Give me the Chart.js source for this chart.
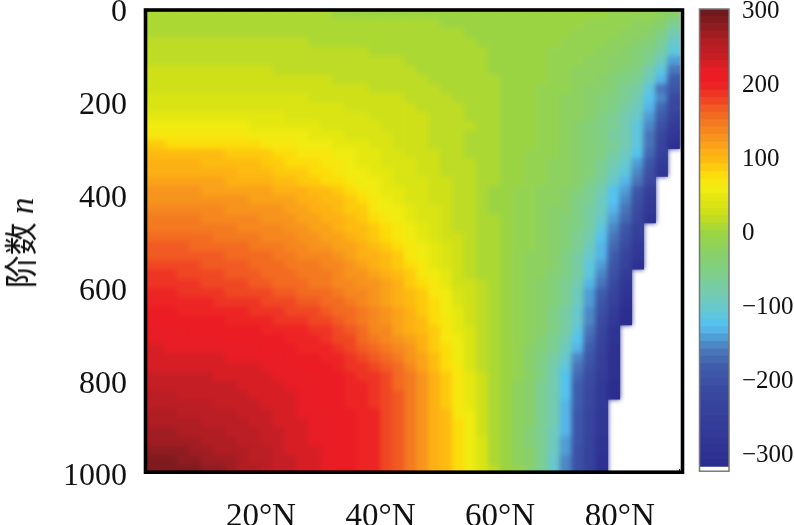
<!DOCTYPE html>
<html>
<head>
<meta charset="utf-8">
<script src="https://cdn.jsdelivr.net/npm/chart.js@4/dist/chart.umd.min.js"></script>
<style>
  html, body { margin: 0; padding: 0; background: #fff; width: 794px; height: 525px; overflow: hidden; }
  canvas { position: absolute; left: 0; top: 0; }
  #yTitle {
    position: absolute; left: 19px; top: 243px;
    transform: translate(-50%, -50%) rotate(-90deg);
    font: 33px "Liberation Serif", "Noto Sans CJK SC", serif;
    white-space: nowrap; color: #111;
  }
</style>
</head>
<body>
<canvas id="heatChart" width="794" height="525"></canvas>
<canvas id="barChart" width="794" height="525"></canvas>
<div id="yTitle">阶数 <i>n</i></div>
<script>
// Data
const latitudes = [1,3,5,7,9,11,13,15,17,19,21,23,25,27,29,31,33,35,37,39,41,43,45,47,49,51,53,55,57,59,61,63,65,67,69,71,73,75,77,79,81,83,85,87,89];
const orders = [0,20,40,60,80,100,120,140,160,180,200,220,240,260,280,300,320,340,360,380,400,420,440,460,480,500,520,540,560,580,600,620,640,660,680,700,720,740,760,780,800,820,840,860,880,900,920,940,960,980];
const orderStep = 20;
const xTicks = [20, 40, 60, 80];
const xTickLabels = ["20°N", "40°N", "60°N", "80°N"];
const yTicks = [0, 200, 400, 600, 800, 1000];
const yTickLabels = ["0", "200", "400", "600", "800", "1000"];
const barTicks = [300, 200, 100, 0, -100, -200, -300];
const barTickLabels = ["300", "200", "100", "0", "−100", "−200", "−300"];
const barLevels = [300,290,280,270,260,250,240,230,220,210,200,190,180,170,160,150,140,130,120,110,100,90,80,70,60,50,40,30,20,10,0,-10,-20,-30,-40,-50,-60,-70,-80,-90,-100,-110,-120,-130,-140,-150,-160,-170,-180,-190,-200,-210,-220,-230,-240,-250,-260,-270,-280,-290,-300,-310];

// colour ramp of the colour bar
const rampValues = [300,280,260,240,220,205,190,170,150,130,110,95,80,65,50,30,15,0,-20,-50,-80,-100,-120,-130,-140,-157,-180,-210,-300,-310];
const rampColors = ["#6e1a1e","#8f1c20","#b01d23","#c61e25","#e81d25","#ed1c24","#ee3424","#f15a22","#f47a20","#f7941d","#fdb014","#fdc10f","#fcdc0a","#f5ec12","#e5e810","#cfe019","#b5da2b","#9bd443","#8dd160","#80cf85","#74cbb0","#68c8cc","#55c3ee","#55b5e8","#4f9dd5","#4a78bb","#3f5cab","#3a4aa0","#2e3192","#2b2e8e"];

// one row per order, one value per latitude, null = no data (white)
const fieldRows = [
[6,6,6,6,6,6,6,6,5,5,5,5,5,5,5,5,4,4,4,4,4,3,3,3,3,3,2,2,1,1,0,0,-1,-1,-2,-3,-3,-4,-5,-6,-8,-10,-14,-20,-35],
[9,9,9,9,9,9,9,9,8,8,8,8,8,8,8,8,7,7,7,7,6,6,6,5,5,4,4,3,2,2,1,0,-1,-1,-3,-4,-5,-6,-7,-9,-12,-16,-23,-35,-60],
[13,13,13,13,13,13,13,13,12,12,12,12,12,11,11,11,11,10,10,10,9,9,8,8,7,6,5,4,3,2,1,0,-1,-2,-4,-5,-7,-9,-11,-14,-18,-23,-32,-50,-80],
[17,17,17,17,16,16,16,16,16,15,15,15,15,15,14,14,13,13,12,12,11,11,10,9,8,7,6,5,4,3,1,0,-1,-3,-5,-7,-9,-12,-15,-19,-24,-30,-42,-62,-98],
[20,20,20,20,20,20,20,19,19,19,19,18,18,18,17,17,16,16,15,14,14,13,12,11,10,9,8,6,5,3,1,0,-2,-4,-7,-9,-12,-15,-19,-24,-30,-37,-50,-75,-115],
[24,24,24,24,23,23,23,23,22,22,22,21,21,20,20,19,19,18,17,16,16,15,14,13,11,10,9,7,6,4,2,0,-2,-4,-8,-11,-14,-18,-22,-27,-35,-45,-62,-95,-140],
[27,27,27,27,27,27,26,26,26,25,25,24,24,23,23,22,21,21,20,19,18,17,15,14,13,11,10,8,6,4,2,0,-2,-5,-8,-12,-16,-20,-25,-31,-42,-54,-78,-115,-165],
[30,30,30,30,30,30,30,29,29,28,28,27,27,26,26,25,24,23,22,21,20,19,17,16,14,12,11,9,7,5,2,0,-2,-5,-9,-13,-18,-23,-29,-37,-48,-64,-92,-135,-180],
[34,34,34,34,34,34,33,33,33,32,32,31,30,30,29,28,27,26,25,24,23,21,19,18,16,14,12,10,8,5,3,0,-3,-6,-10,-14,-19,-26,-33,-42,-56,-75,-108,-160,-195],
[39,39,39,39,38,38,38,38,37,37,36,36,35,35,34,33,32,31,30,28,27,25,23,21,19,17,14,12,9,6,3,0,-3,-7,-11,-16,-22,-30,-38,-48,-65,-85,-120,-155,-210],
[44,44,44,44,43,43,43,42,42,41,41,40,39,38,37,36,35,34,33,31,29,27,25,23,21,18,16,13,10,7,3,0,-3,-7,-12,-17,-24,-32,-42,-54,-72,-95,-128,-170,-225],
[51,51,51,50,50,50,49,49,48,47,46,45,44,43,41,40,39,37,35,33,31,29,27,25,22,20,17,14,10,7,3,0,-4,-8,-13,-18,-25,-35,-46,-60,-78,-105,-138,-185,-245],
[60,60,60,59,59,58,58,57,56,54,53,51,50,48,46,44,42,40,38,36,34,31,29,26,23,20,18,15,11,7,3,0,-4,-8,-13,-18,-26,-37,-50,-63,-82,-110,-150,-205,-265],
[71,71,70,70,69,68,68,67,66,64,62,60,57,55,52,50,47,44,41,38,36,33,30,27,24,21,18,14,10,6,3,-1,-5,-9,-13,-19,-27,-38,-52,-66,-84,-112,-158,-218,-285],
[85,85,84,84,83,82,81,80,78,75,71,68,65,62,59,56,52,48,45,41,37,33,30,27,24,21,17,13,9,5,2,-2,-5,-9,-13,-19,-26,-36,-50,-65,-85,-115,-165,-230,-300],
[100,100,99,98,97,96,95,93,91,88,85,81,77,73,69,65,60,55,50,45,40,36,32,29,26,22,18,14,10,6,2,-2,-6,-10,-15,-21,-29,-40,-54,-72,-92,-125,-172,-245,null],
[108,108,107,106,105,104,102,100,98,95,92,88,84,80,75,70,65,60,54,49,44,39,35,31,27,23,19,15,10,6,2,-3,-7,-11,-16,-22,-31,-42,-58,-80,-105,-140,-190,-262,null],
[114,114,113,112,111,110,108,106,104,101,98,94,90,86,81,76,70,64,58,53,47,42,38,33,28,24,19,15,10,6,2,-3,-8,-12,-17,-23,-32,-44,-62,-90,-115,-155,-205,-280,null],
[120,120,119,118,118,117,115,113,111,108,105,102,98,93,87,83,76,69,63,57,50,44,40,35,29,25,20,15,10,5,1,-4,-9,-13,-18,-25,-35,-46,-70,-100,-128,-165,-215,null,null],
[127,127,126,125,125,124,123,122,120,118,116,113,110,106,101,96,90,82,72,62,53,46,41,36,31,26,21,15,10,4,-2,-8,-13,-18,-24,-32,-45,-62,-80,-118,-145,-190,-255,null,null],
[133,133,132,131,131,130,129,128,126,124,122,119,116,112,107,102,96,88,78,68,58,50,44,38,33,27,22,16,10,4,-2,-8,-13,-18,-25,-33,-46,-65,-88,-122,-152,-198,-265,null,null],
[140,140,139,138,138,137,136,134,132,130,128,125,122,118,113,108,102,94,85,74,64,55,48,41,35,29,23,17,11,4,-2,-8,-14,-19,-26,-35,-48,-68,-95,-130,-165,-212,-275,null,null],
[147,147,146,145,145,144,142,140,138,136,134,131,128,124,119,114,108,100,91,81,70,60,52,44,37,30,24,18,12,5,-2,-8,-14,-20,-27,-36,-50,-70,-105,-140,-175,-225,-290,null,null],
[153,153,152,151,151,150,148,146,144,141,138,135,132,128,124,119,112,103,95,87,78,68,57,47,39,31,24,18,12,5,-2,-8,-14,-21,-28,-39,-54,-75,-115,-150,-188,-240,null,null,null],
[160,160,159,158,157,155,153,151,149,146,142,139,136,132,128,123,117,109,100,92,83,73,62,52,42,33,25,19,13,5,-2,-9,-15,-22,-30,-42,-58,-80,-125,-160,-200,-255,null,null,null],
[167,167,166,165,164,162,160,158,155,152,149,146,142,138,134,129,123,115,107,98,89,79,67,56,45,35,26,19,13,5,-2,-9,-15,-22,-30,-44,-62,-90,-130,-175,-215,-270,null,null,null],
[173,173,172,171,170,168,166,164,161,158,155,152,148,144,140,135,129,122,114,105,95,85,72,60,48,37,28,20,13,5,-1,-9,-16,-23,-32,-47,-67,-100,-135,-185,-232,-285,null,null,null],
[180,180,179,178,176,174,172,169,166,163,160,157,153,149,145,141,135,128,120,112,103,93,79,66,53,40,30,21,13,6,-1,-9,-16,-24,-34,-50,-70,-108,-142,-195,-245,-300,null,null,null],
[186,186,185,183,181,179,177,174,171,167,164,161,157,153,149,145,140,133,126,118,110,100,86,73,60,45,32,22,13,6,0,-8,-16,-25,-37,-54,-75,-112,-148,-205,-258,null,null,null,null],
[192,191,190,188,186,184,181,178,175,171,168,164,160,156,152,148,143,138,132,125,117,106,94,81,70,52,34,25,18,8,0,-8,-17,-26,-40,-60,-80,-130,-165,-215,-280,null,null,null,null],
[197,196,195,193,192,190,187,184,182,178,175,171,168,164,160,155,150,144,137,129,121,110,98,85,73,56,38,27,19,8,-1,-9,-18,-27,-42,-62,-86,-136,-177,-230,-292,null,null,null,null],
[202,201,200,199,197,196,193,191,188,185,182,179,175,172,168,163,157,151,142,133,124,113,102,89,76,59,41,29,20,7,-1,-10,-19,-28,-44,-65,-92,-142,-190,-245,-300,null,null,null,null],
[207,206,206,204,203,201,200,197,195,192,189,186,183,180,176,170,164,157,146,136,128,117,105,92,80,63,45,31,20,7,-2,-10,-20,-30,-46,-67,-98,-148,-200,-260,-310,null,null,null,null],
[212,211,211,210,208,207,206,204,201,199,196,194,191,187,184,178,171,164,151,140,131,120,109,96,83,66,48,33,21,6,-2,-11,-21,-31,-48,-70,-104,-154,-212,-275,-315,null,null,null,null],
[217,216,216,215,214,213,212,210,208,206,203,201,198,195,191,185,178,170,156,144,135,124,113,100,86,70,52,35,22,6,-3,-12,-22,-32,-50,-72,-110,-160,-225,-290,null,null,null,null,null],
[221,220,220,219,218,217,216,214,213,211,208,206,203,200,196,190,184,176,164,152,143,132,119,105,90,74,55,37,23,6,-3,-13,-24,-37,-56,-82,-122,-170,-232,-293,null,null,null,null,null],
[225,225,224,223,223,222,221,219,217,215,212,210,207,204,200,195,189,182,171,161,151,140,126,110,94,77,58,39,23,7,-3,-13,-26,-41,-63,-91,-135,-180,-240,-296,null,null,null,null,null],
[230,229,229,228,227,226,225,223,222,220,217,215,212,209,205,200,195,188,179,169,160,147,132,115,98,81,62,41,24,7,-3,-14,-28,-46,-69,-101,-147,-190,-247,-299,null,null,null,null,null],
[234,234,233,232,232,231,230,228,226,225,221,219,216,213,209,205,200,194,186,178,168,155,139,120,102,84,65,43,24,8,-3,-14,-30,-50,-76,-110,-160,-200,-255,-302,null,null,null,null,null],
[238,238,237,236,236,235,234,232,231,229,226,224,221,218,214,210,206,200,194,186,176,163,145,125,106,88,68,45,25,8,-3,-15,-32,-55,-82,-120,-172,-210,-262,-305,null,null,null,null,null],
[243,242,241,240,240,239,237,235,234,232,228,226,223,220,216,211,207,201,196,188,177,164,146,127,108,90,69,48,26,8,-3,-16,-33,-56,-83,-122,-176,-214,-266,-308,null,null,null,null,null],
[247,247,246,244,244,242,241,238,237,234,231,228,225,221,217,213,208,203,198,191,178,165,146,128,109,92,71,50,27,9,-3,-16,-33,-57,-83,-124,-179,-219,-269,-312,null,null,null,null,null],
[252,251,250,249,247,246,244,242,239,237,233,230,226,223,219,214,210,204,199,193,179,165,147,128,110,93,72,53,29,9,-3,-17,-34,-58,-84,-126,-183,-223,-273,null,null,null,null,null,null],
[256,256,255,253,251,249,248,245,242,239,236,232,228,224,220,216,211,206,201,196,179,166,147,129,111,95,74,55,30,10,-3,-17,-34,-59,-84,-128,-186,-228,-276,null,null,null,null,null,null],
[261,260,259,257,255,253,251,248,245,242,238,234,230,226,222,217,212,207,203,198,180,167,148,130,112,97,75,58,32,10,-3,-18,-35,-60,-85,-130,-190,-232,-280,null,null,null,null,null,null],
[267,266,265,263,261,258,256,252,249,245,240,236,231,227,223,218,213,208,203,198,180,167,148,130,112,96,77,58,33,11,-3,-17,-36,-61,-88,-134,-192,-234,-284,null,null,null,null,null,null],
[273,272,271,269,266,263,260,256,252,248,242,238,233,228,224,219,213,208,203,197,179,167,148,130,111,96,78,59,35,12,-3,-17,-36,-62,-91,-138,-195,-237,-288,null,null,null,null,null,null],
[280,279,278,275,272,268,264,260,256,251,245,240,234,230,225,219,214,208,203,197,179,166,149,130,110,95,79,60,37,13,-3,-16,-35,-63,-94,-142,-199,-240,-292,null,null,null,null,null,null],
[287,286,285,282,278,274,270,265,260,254,247,242,236,231,225,220,214,208,203,196,178,166,150,130,109,95,80,61,40,14,-2,-16,-35,-64,-97,-146,-202,-242,-296,null,null,null,null,null,null],
[294,293,292,289,285,280,275,269,263,257,250,244,238,232,226,220,214,208,203,196,178,165,150,130,108,95,80,62,42,15,-2,-15,-35,-65,-100,-150,-205,-245,-300,null,null,null,null,null,null]
];

const serif = "'Liberation Serif', serif";

function hexToRgb(hex) {
  return [1, 3, 5].map(i => parseInt(hex.slice(i, i + 2), 16));
}

// values fall into 10-wide bands, like the colour bar
function bandColor(value) {
  const v = Math.round(value / 10) * 10;
  for (let i = 0; i < rampValues.length - 1; i++) {
    if (v <= rampValues[i] && v >= rampValues[i + 1]) {
      const t = (rampValues[i] - v) / (rampValues[i] - rampValues[i + 1]);
      const a = hexToRgb(rampColors[i]);
      const b = hexToRgb(rampColors[i + 1]);
      const c = a.map((x, k) => Math.round(x + (b[k] - x) * t));
      return `rgb(${c[0]},${c[1]},${c[2]})`;
    }
  }
  return v > 300 ? rampColors[0] : rampColors[rampColors.length - 1];
}

// Frame drawn on top of the cells
function framePlugin(color, width, inset) {
  return {
    id: "frame",
    afterDatasetsDraw(chart) {
      const a = chart.chartArea;
      const c = chart.ctx;
      c.save();
      c.strokeStyle = color;
      c.lineWidth = width;
      c.strokeRect(a.left, a.top + inset, a.right - a.left, a.bottom - a.top - inset - 0.8);
      c.restore();
    }
  };
}

// the source image is soft, so soften the cells a little before the frame goes on
const softenCells = {
  id: "softenCells",
  afterDatasetsDraw(chart) {
    const a = chart.chartArea;
    const c = chart.ctx;
    c.save();
    c.beginPath();
    c.rect(a.left, a.top, a.right - a.left, a.bottom - a.top);
    c.clip();
    c.filter = "blur(2.5px)";
    c.drawImage(c.canvas, 0, 0);
    c.restore();
  }
};

function zeroPadding(s) {
  s.paddingTop = 0;
  s.paddingBottom = 0;
  s.paddingLeft = 0;
  s.paddingRight = 0;
}

// Heat map: one floating-bar dataset per order
const heatSets = orders.map((n, r) => ({
  data: latitudes.map((lat, c) => ({
    x: lat,
    y: fieldRows[r][c] === null ? null : [n, n + orderStep * 1.08]
  })),
  backgroundColor: latitudes.map((lat, c) =>
    fieldRows[r][c] === null ? "rgba(0,0,0,0)" : bandColor(fieldRows[r][c])),
  borderWidth: 0,
  barPercentage: 1.06,
  categoryPercentage: 1,
  grouped: false
}));

new Chart(document.getElementById("heatChart"), {
  type: "bar",
  data: { datasets: heatSets },
  options: {
    responsive: false,
    animation: false,
    layout: { padding: { top: 9, right: 111.5, left: 0, bottom: 0 } },
    plugins: { legend: { display: false }, tooltip: { enabled: false } },
    scales: {
      x: {
        type: "linear",
        position: "bottom",
        min: 0.7,
        max: 90.5,
        offset: false,
        z: 1,
        afterBuildTicks: s => { s.ticks = xTicks.map(v => ({ value: v })); },
        afterFit: s => { s.height = 52; zeroPadding(s); },
        grid: { drawOnChartArea: false, tickLength: -4, color: "#222", tickWidth: 1 },
        border: { display: false },
        ticks: {
          autoSkip: false, maxRotation: 0, padding: 29, color: "#111",
          font: { family: serif, size: 33 },
          callback: v => xTickLabels[xTicks.indexOf(v)]
        }
      },
      y: {
        type: "linear",
        reverse: true,
        min: 0,
        max: 1000,
        z: 1,
        afterBuildTicks: s => { s.ticks = yTicks.map(v => ({ value: v })); },
        afterFit: s => { s.width = 145.5; zeroPadding(s); },
        grid: { drawOnChartArea: false, tickLength: -4, color: "#222", tickWidth: 1 },
        border: { display: false },
        ticks: {
          autoSkip: false, padding: 22.5, labelOffset: 4, color: "#111",
          font: { family: serif, size: 32 },
          callback: v => yTickLabels[yTicks.indexOf(v)]
        }
      }
    }
  },
  plugins: [softenCells, framePlugin("#000", 3.6, 1)]
});

// Colour bar: one floating bar per level
const barSets = barLevels.map(level => ({
  data: [[level - 5, level + 5.3]],
  backgroundColor: bandColor(level),
  borderWidth: 0,
  barPercentage: 1,
  categoryPercentage: 1,
  grouped: false
}));

new Chart(document.getElementById("barChart"), {
  type: "bar",
  data: { labels: [""], datasets: barSets },
  options: {
    responsive: false,
    animation: false,
    layout: { padding: { top: 9, left: 699.5, bottom: 53, right: 0 } },
    plugins: { legend: { display: false }, tooltip: { enabled: false } },
    scales: {
      x: { display: false },
      y: {
        type: "linear",
        position: "right",
        min: -322.6,
        max: 303.6,
        z: 1,
        afterBuildTicks: s => { s.ticks = barTicks.map(v => ({ value: v })); },
        afterFit: s => { s.width = 65; zeroPadding(s); },
        grid: { drawOnChartArea: false, tickLength: -5, color: "#222", tickWidth: 1.5 },
        border: { display: false },
        ticks: {
          autoSkip: false, padding: 18, color: "#111",
          font: { family: serif, size: 25 },
          callback: v => barTickLabels[barTicks.indexOf(v)]
        }
      }
    }
  },
  plugins: [framePlugin("#777", 1.5, 0)]
});
</script>
</body>
</html>
